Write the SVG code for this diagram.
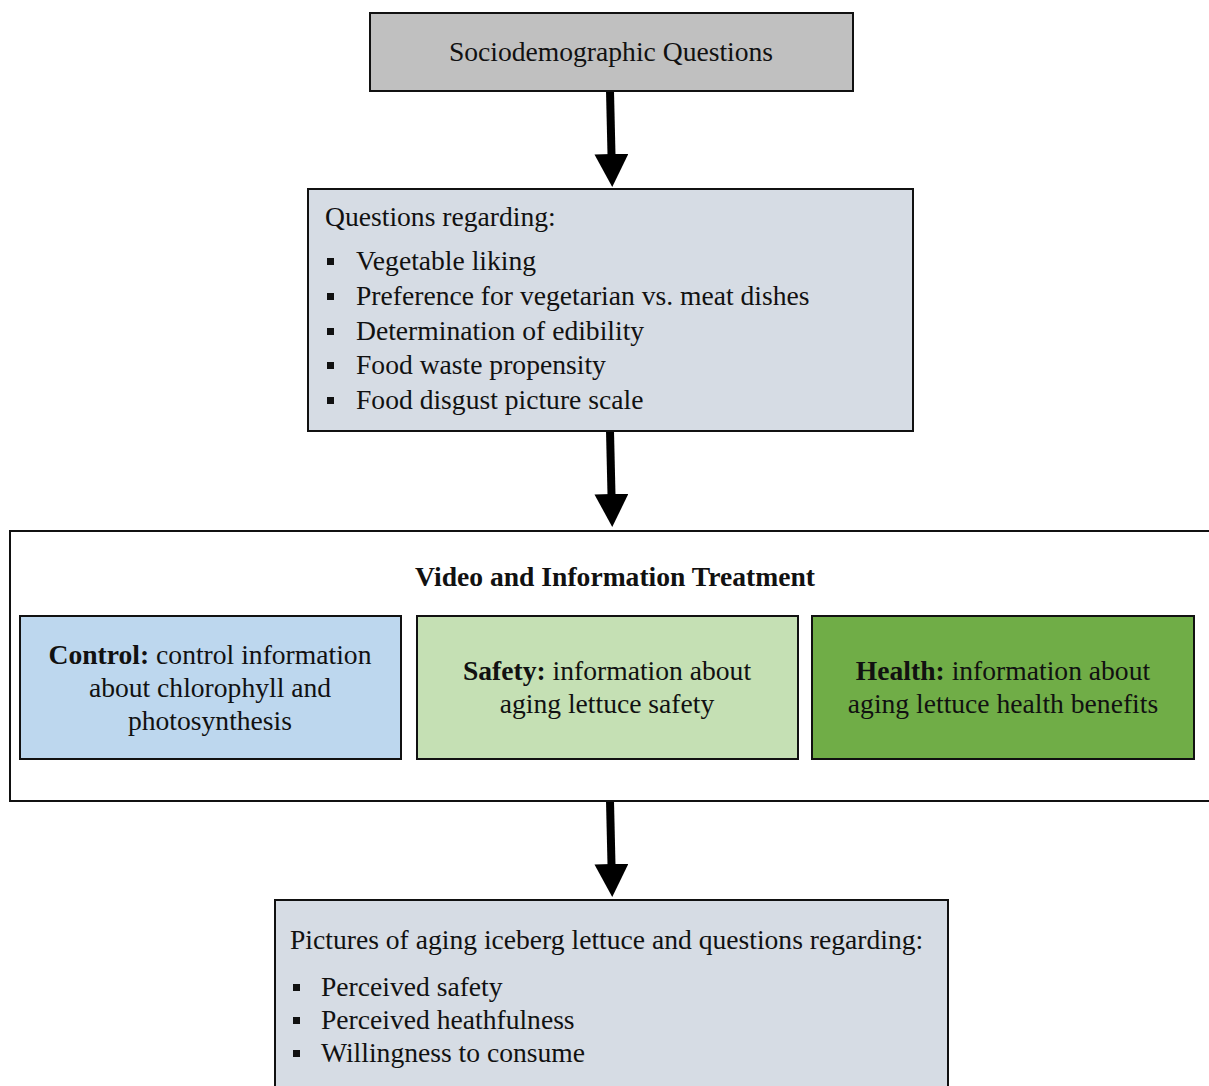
<svg xmlns="http://www.w3.org/2000/svg" width="1209" height="1086" viewBox="0 0 1209 1086">
<style>
text{font-family:"Liberation Serif","Times New Roman",serif;font-size:27.6px;fill:#111}
.b{font-weight:bold}
.box{stroke:#111;stroke-width:2}
.c{text-anchor:middle}
.conn{stroke:#000;stroke-width:8;fill:none}
</style>
<defs>
<marker id="ah" markerUnits="userSpaceOnUse" markerWidth="33" markerHeight="34" refX="1" refY="17" orient="auto" viewBox="0 0 33 34">
<path d="M0,0 L33,17 L0,34 Z" fill="#000"/>
</marker>
</defs>
<rect width="1209" height="1086" fill="#fff"/>
<g id="connectors">
<line class="conn" x1="610" y1="91" x2="611.5" y2="155" marker-end="url(#ah)"/>
<line class="conn" x1="610" y1="431" x2="611.5" y2="495" marker-end="url(#ah)"/>
<line class="conn" x1="610" y1="801" x2="611.5" y2="865" marker-end="url(#ah)"/>
</g>
<g id="socio">
<rect class="box" x="370" y="13" width="483" height="78" fill="#c0c0c0"/>
<text class="c" x="611" y="61">Sociodemographic Questions</text>
</g>
<g id="questions">
<rect class="box" x="308" y="189" width="605" height="242" fill="#d6dce4"/>
<text x="325" y="226">Questions regarding:</text>
<g fill="#111"><rect x="327" y="258" width="7" height="7"/><rect x="327" y="293" width="7" height="7"/><rect x="327" y="328" width="7" height="7"/><rect x="327" y="362" width="7" height="7"/><rect x="327" y="397" width="7" height="7"/></g>
<text x="356" y="270">Vegetable liking</text>
<text x="356" y="305">Preference for vegetarian vs. meat dishes</text>
<text x="356" y="340">Determination of edibility</text>
<text x="356" y="374">Food waste propensity</text>
<text x="356" y="409">Food disgust picture scale</text>
</g>
<g id="treatment">
<rect class="box" x="10" y="531" width="1205" height="270" fill="#fff"/>
<text class="c b" x="615" y="586">Video and Information Treatment</text>
</g>
<g id="control">
<rect class="box" x="20" y="616" width="381" height="143" fill="#bdd7ee"/>
<text class="c" x="210" y="664"><tspan class="b">Control:</tspan> control information</text>
<text class="c" x="210" y="697">about chlorophyll and</text>
<text class="c" x="210" y="730">photosynthesis</text>
</g>
<g id="safety">
<rect class="box" x="417" y="616" width="381" height="143" fill="#c5e0b4"/>
<text class="c" x="607" y="680"><tspan class="b">Safety:</tspan> information about</text>
<text class="c" x="607" y="713">aging lettuce safety</text>
</g>
<g id="health">
<rect class="box" x="812" y="616" width="382" height="143" fill="#70ad47"/>
<text class="c" x="1003" y="680"><tspan class="b">Health:</tspan> information about</text>
<text class="c" x="1003" y="713">aging lettuce health benefits</text>
</g>
<g id="pictures">
<rect class="box" x="275" y="900" width="673" height="200" fill="#d6dce4"/>
<text x="290" y="949">Pictures of aging iceberg lettuce and questions regarding:</text>
<g fill="#111"><rect x="293" y="984" width="7" height="7"/><rect x="293" y="1017" width="7" height="7"/><rect x="293" y="1050" width="7" height="7"/></g>
<text x="321" y="996">Perceived safety</text>
<text x="321" y="1029">Perceived heathfulness</text>
<text x="321" y="1062">Willingness to consume</text>
</g>
</svg>
